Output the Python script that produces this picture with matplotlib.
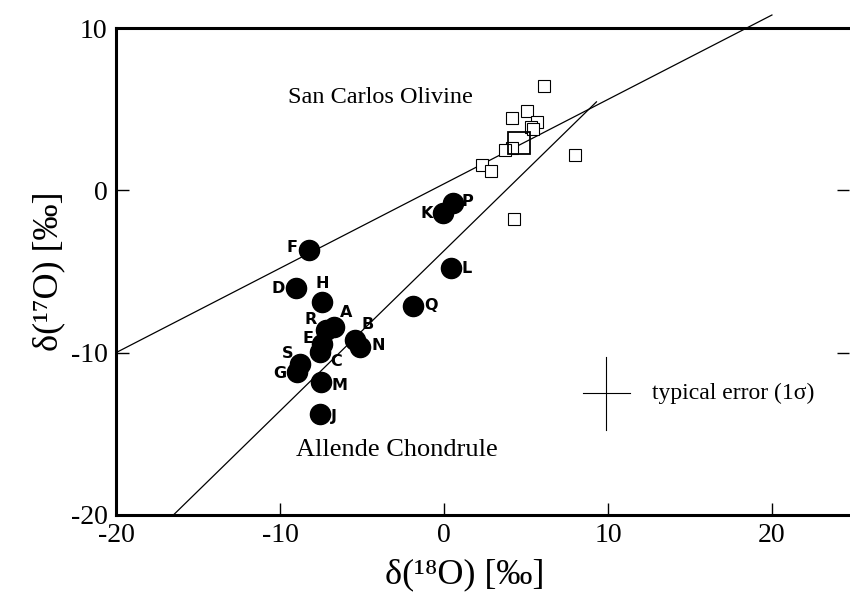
import matplotlib
matplotlib.use("Agg")
import matplotlib.pyplot as plt
from matplotlib import font_manager

# ---------------- data ----------------
chondrule_labels = ["F", "D", "H", "A", "R", "E", "C", "B", "N", "S", "G", "M", "J", "Q", "K", "P", "L"]
chondrule_d18 = [-8.2, -9.0, -7.45, -6.7, -7.2, -7.45, -7.55, -5.45, -5.1, -8.75, -8.95, -7.5, -7.55, -1.9, -0.05, 0.55, 0.4]
chondrule_d17 = [-3.65, -6.0, -6.9, -8.4, -8.6, -9.45, -9.95, -9.2, -9.65, -10.7, -11.2, -11.8, -13.8, -7.1, -1.4, -0.8, -4.8]

olivine_d18 = [6.1, 4.15, 5.05, 5.65, 5.3, 5.4, 4.15, 3.7, 2.3, 2.85, 8.0, 4.25]
olivine_d17 = [6.4, 4.45, 4.9, 4.2, 3.9, 3.75, 2.6, 2.5, 1.55, 1.2, 2.2, -1.75]
olivine_mean = (4.6, 2.9)

tf_line_x = [-20, 20]
tf_line_y = [-10, 10.8]
ccam_line_x = [-16.5, 9.3]
ccam_line_y = [-20, 5.45]

err_center = (9.9, -12.5)
err_dx = 1.42
err_dy = 2.25

xticks = [-20, -10, 0, 10, 20]
yticks = [-20, -10, 0, 10]

# label offsets in pixels (style)
label_offsets = {
    "F": (-17, 2), "D": (-18, -1), "H": (0, 19), "A": (12, 14), "R": (-15, 10),
    "E": (-14, 5), "C": (16, -10), "B": (13, 15), "N": (18, 1), "S": (-13, 11),
    "G": (-17, -1), "M": (19, -4), "J": (14, -2), "Q": (18, 0), "K": (-16, 0),
    "P": (14, 2), "L": (16, 0),
}

# ---------------- fonts ----------------
names = {f.name for f in font_manager.fontManager.ttflist}
serif = "Liberation Serif" if "Liberation Serif" in names else "DejaVu Serif"
narrow = "Liberation Sans Narrow" if "Liberation Sans Narrow" in names else "DejaVu Sans"

plt.rcParams["font.family"] = [serif, "DejaVu Serif"]
plt.rcParams["mathtext.fontset"] = "stix"

fig = plt.figure(figsize=(8.5, 5.97), dpi=100)
ax = fig.add_axes([116 / 850, 82 / 597, 733 / 850, 487 / 597])

ax.set_xlim(-20, 24.7)
ax.set_ylim(-20, 10)

ax.plot(tf_line_x, tf_line_y, color="black", lw=0.9, clip_on=False, zorder=2)
ax.plot(ccam_line_x, ccam_line_y, color="black", lw=0.9, zorder=2)

ax.plot(olivine_d18, olivine_d17, linestyle="none", marker="s", markersize=8.5,
        markerfacecolor="white", markeredgecolor="black", markeredgewidth=0.8, zorder=3)
ax.plot([olivine_mean[0]], [olivine_mean[1]], linestyle="none", marker="s", markersize=16,
        markerfacecolor="none", markeredgecolor="black", markeredgewidth=1.3, zorder=4)

ax.plot(chondrule_d18, chondrule_d17, linestyle="none", marker="o", markersize=14.5,
        color="black", zorder=5)

for lab, x, y in zip(chondrule_labels, chondrule_d18, chondrule_d17):
    dx, dy = label_offsets[lab]
    ax.annotate(lab, (x, y), xytext=(dx * 0.72, dy * 0.72), textcoords="offset points",
                ha="center", va="center", fontsize=11.5, fontweight="bold",
                family=[narrow, "DejaVu Sans"], zorder=6)

# typical error cross
cx, cy = err_center
ax.plot([cx - err_dx, cx + err_dx], [cy, cy], color="black", lw=0.8)
ax.plot([cx, cx], [cy - err_dy, cy + err_dy], color="black", lw=0.8)
ax.text(12.7, cy, "typical error (1σ)", ha="left", va="center", fontsize=17)

ax.text(-3.9, 5.7, "San Carlos Olivine", ha="center", va="center", fontsize=17.5)
ax.text(-2.85, -16.0, "Allende Chondrule", ha="center", va="center", fontsize=19)

ax.set_xticks(xticks)
ax.set_yticks(yticks)
ax.set_xticklabels([str(t) for t in xticks])
ax.set_yticklabels([str(t) for t in yticks])
ax.tick_params(axis="both", direction="in", length=9, width=1, labelsize=20,
               right=True, top=False, pad=6)

for side in ["left", "bottom", "top"]:
    ax.spines[side].set_linewidth(2.2)
ax.spines["right"].set_visible(False)

ax.set_xlabel("δ(¹⁸O) [‰]", fontsize=26)
ax.xaxis.set_label_coords(0.476, -0.088)
ax.set_ylabel("δ(¹⁷O) [‰]", fontsize=26, labelpad=4)

fig.savefig("out.png", dpi=100)
